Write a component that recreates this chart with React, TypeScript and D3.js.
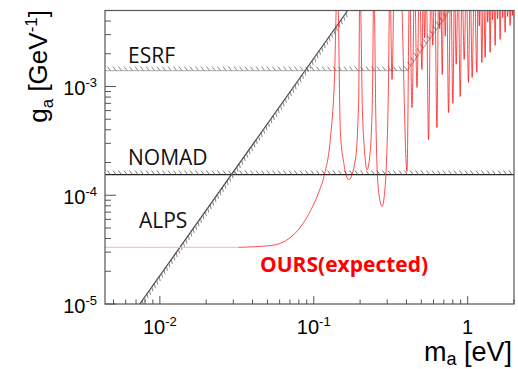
import React from 'react';
import * as d3 from 'd3';

// axis ranges
const massDomain: [number, number] = [0.0044, 2];
const couplingDomain: [number, number] = [1e-5, 5e-3];

// exclusion limits
const esrfMass = [0.0044, 0.405, 0.79];
const esrfCoupling = [1.4e-3, 1.4e-3, 5.3e-3];
const nomadMass = [0.0044, 2];
const nomadCoupling = [1.55e-4, 1.55e-4];
const diagonalMass = [0.0074, 0.166];
const diagonalCoupling = [1e-5, 5e-3];

// expected sensitivity (faint flat part + main curve)
const oursFlatMass = [0.0044, 0.0325];
const oursFlatCoupling = [3.32e-5, 3.32e-5];
const oursMass = [
  0.0325, 0.0524, 0.0706, 0.082, 0.0952, 0.1073, 0.1173, 0.128, 0.1362, 0.1424,
  0.149, 0.1565, 0.1687, 0.1863, 0.1958, 0.1994,
  0.207, 0.2134, 0.2219, 0.2317, 0.2403, 0.2457,
  0.2532, 0.2589, 0.2667, 0.278, 0.2876, 0.2963, 0.3054, 0.3122,
  0.3225, 0.334, 0.365, 0.4034, 0.4195, 0.4345, 0.452, 0.4685, 0.486,
  0.5047, 0.515, 0.5254, 0.538, 0.5567, 0.578, 0.593, 0.61, 0.6314, 0.648,
  0.658, 0.668, 0.6833, 0.70, 0.715, 0.73, 0.7508, 0.776, 0.8017, 0.822,
  0.842, 0.868, 0.894, 0.92, 0.949, 0.98, 1.012, 1.04, 1.069, 1.105,
  1.147, 1.17, 1.19, 1.21, 1.236, 1.267, 1.299, 1.325, 1.35, 1.375,
  1.399, 1.425, 1.45, 1.48, 1.508, 1.535, 1.565, 1.595, 1.625, 1.655,
  1.69, 1.72, 1.751, 1.785, 1.82, 1.855, 1.887, 1.92, 1.95, 1.98, 2.0,
];
const oursCoupling = [
  3.32e-5, 3.45e-5, 4.1e-5, 5.1e-5, 7.2e-5, 1.05e-4, 1.55e-4, 3.25e-4, 1.16e-3, 1e-2,
  3.77e-4, 2.0e-4, 1.39e-4, 2.12e-4, 7.6e-4, 1e-2,
  6.1e-4, 2.63e-4, 1.72e-4, 2.36e-4, 7.6e-4, 1e-2,
  4.97e-4, 1.55e-4, 9.7e-5, 7.9e-5, 1.01e-4, 1.91e-4, 9.4e-4, 1e-2,
  1.16e-3, 1e-2, 1e-2, 1.66e-4, 1e-2, 6.4e-4, 1e-2, 9.8e-4, 1e-2,
  1.43e-3, 1e-2, 2.8e-3, 1e-2, 3.25e-4, 1e-2, 2.4e-3, 1e-2, 4.19e-4, 1e-2,
  3.4e-3, 1e-2, 1.29e-3, 1e-2, 2.9e-3, 1e-2, 5.76e-4, 1e-2, 6.97e-4, 1e-2,
  1.6e-3, 1e-2, 8.09e-4, 1e-2, 1.77e-3, 1e-2, 1.09e-3, 1e-2, 1.21e-3, 1e-2,
  1.35e-3, 1e-2, 3.6e-3, 1e-2, 1.66e-3, 1e-2, 1.85e-3, 1e-2, 3.9e-3, 1e-2,
  2.06e-3, 1e-2, 4.1e-3, 1e-2, 2.39e-3, 1e-2, 4.2e-3, 1e-2, 2.71e-3, 1e-2,
  4.3e-3, 1e-2, 3.15e-3, 1e-2, 4.4e-3, 1e-2, 3.65e-3, 1e-2, 4.5e-3, 1e-2, 4.2e-3,
];

// tick labels
const xMajor = [0.01, 0.1, 1];
const xBase = ['10', '10', '1'];
const xExp = ['-2', '-1', ''];
const yMajor = [1e-5, 1e-4, 1e-3];
const yExp = ['-5', '-4', '-3'];

const L = 105, R = 514, T = 10.5, B = 304;

type Pt = [number, number];

function hatchPath(pts: Pt[], step: number, vec: Pt) {
  let d = '';
  let carry = 0;
  for (let s = 0; s < pts.length - 1; s++) {
    const [x0, y0] = pts[s];
    const [x1, y1] = pts[s + 1];
    const len = Math.hypot(x1 - x0, y1 - y0);
    let t = carry;
    while (t <= len) {
      const px = x0 + ((x1 - x0) * t) / len;
      const py = y0 + ((y1 - y0) * t) / len;
      d += `M${px},${py}L${px + vec[0]},${py + vec[1]}`;
      t += step;
    }
    carry = t - len;
  }
  return d;
}

export default function App() {
  const x = d3.scaleLog().domain(massDomain).range([L, R]);
  const y = d3.scaleLog().domain(couplingDomain).range([B, T]);

  const toPts = (ms: number[], gs: number[]): Pt[] => ms.map((m, i) => [x(m), y(gs[i])]);
  const straight = d3.line<Pt>();
  const smooth = d3.line<Pt>().curve(d3.curveMonotoneX);

  const esrf = toPts(esrfMass, esrfCoupling);
  const nomad = toPts(nomadMass, nomadCoupling);
  const diag = toPts(diagonalMass, diagonalCoupling);
  const ours = toPts(oursMass, oursCoupling);
  const oursFlat = toPts(oursFlatMass, oursFlatCoupling);

  const isMajor = (v: number) => Math.abs(Math.log10(v) - Math.round(Math.log10(v))) < 1e-6;
  const xTicks = x.ticks();
  const yTicks = y.ticks();

  const tickFont = '"Liberation Sans", Arial, sans-serif';
  const labelFont = '"Open Sans", sans-serif';

  return (
    <svg width={518} height={369} style={{ position: 'absolute', left: 0, top: 0, background: '#fff' }}>
      <defs>
        <clipPath id="plot">
          <rect x={L} y={T} width={R - L} height={B - T} />
        </clipPath>
      </defs>

      <g clipPath="url(#plot)">
        {/* ESRF */}
        <path d={straight(esrf) || ''} fill="none" stroke="#bbb" strokeWidth={1.2} />
        <path d={hatchPath(esrf, 5.5, [-3, -4])} fill="none" stroke="#777" strokeWidth={0.9} />
        {/* NOMAD */}
        <path d={straight(nomad) || ''} fill="none" stroke="#222" strokeWidth={1.2} />
        <path d={hatchPath(nomad, 5.5, [-3, -4])} fill="none" stroke="#666" strokeWidth={0.9} />
        {/* diagonal limit */}
        <path d={straight(diag) || ''} fill="none" stroke="#444" strokeWidth={1.2} />
        <path d={hatchPath(diag, 4.2, [1, 4.5])} fill="none" stroke="#777" strokeWidth={0.9} />

        {/* expected sensitivity */}
        <path d={straight(oursFlat) || ''} fill="none" stroke="#ffb3b3" strokeWidth={1} />
        <path d={smooth(ours) || ''} fill="none" stroke="#ff0000" strokeOpacity={0.7} strokeWidth={1} />
      </g>

      {/* frame */}
      <rect x={L} y={T} width={R - L} height={B - T} fill="none" stroke="#555" strokeWidth={1.2} />

      {/* x ticks */}
      {xTicks.map((t, i) => (
        <line key={'xt' + i} x1={x(t)} x2={x(t)} y1={B} y2={B - (isMajor(t) ? 8 : 4.5)} stroke="#555" />
      ))}
      {xMajor.map((t, i) => (
        <text key={'xl' + i} x={x(t)} y={334} textAnchor="middle" fontFamily={tickFont} fontSize={20} fill="#000">
          {xBase[i]}
          {xExp[i] && (
            <tspan fontSize={13} dy={-8}>
              {xExp[i]}
            </tspan>
          )}
        </text>
      ))}

      {/* y ticks */}
      {yTicks.map((t, i) => (
        <line key={'yt' + i} x1={L} x2={L + (isMajor(t) ? 11 : 6)} y1={y(t)} y2={y(t)} stroke="#555" />
      ))}
      {yMajor.map((t, i) => (
        <text key={'yl' + i} x={97} y={y(t) + 8.5} textAnchor="end" fontFamily={tickFont} fontSize={20} fill="#000">
          10
          <tspan fontSize={13} dy={-8}>
            {yExp[i]}
          </tspan>
        </text>
      ))}

      {/* axis titles */}
      <text x={512} y={361} textAnchor="end" fontFamily={tickFont} fontSize={27} fill="#000">
        m<tspan fontSize={18} dy={4}>a</tspan>
        <tspan dy={-4}> [eV]</tspan>
      </text>
      <text
        transform="translate(47,10) rotate(-90)"
        textAnchor="end"
        fontFamily={tickFont}
        fontSize={26}
        fill="#000"
      >
        g<tspan fontSize={17} dy={6}>a</tspan>
        <tspan dy={-6}> [GeV</tspan>
        <tspan fontSize={17} dy={-10}>-1</tspan>
        <tspan dy={10}>]</tspan>
      </text>

      {/* labels */}
      <text x={128} y={63} fontFamily={labelFont} fontSize={21} fill="#111">ESRF</text>
      <text x={128} y={165} fontFamily={labelFont} fontSize={21} fill="#111">NOMAD</text>
      <text x={139} y={228} fontFamily={labelFont} fontSize={21} fill="#111">ALPS</text>
      <text x={260} y={272} fontFamily={labelFont} fontWeight="bold" fontSize={21} fill="#ff0000">
        OURS(expected)
      </text>
    </svg>
  );
}
